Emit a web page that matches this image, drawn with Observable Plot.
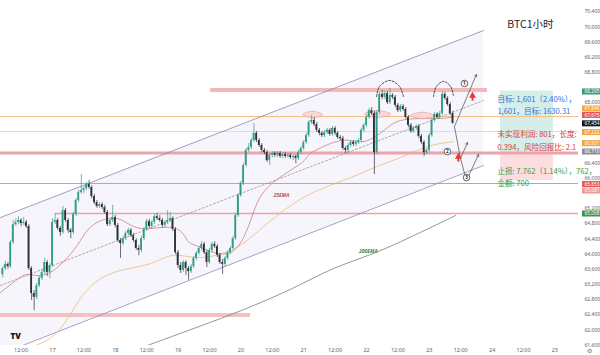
<!DOCTYPE html>
<html><head><meta charset="utf-8">
<script src="https://cdn.jsdelivr.net/npm/d3@7"></script>
<script src="https://cdn.jsdelivr.net/npm/@observablehq/plot@0.6"></script>
<style>
html,body{margin:0;padding:0;background:#fff;}
#chart{width:600px;height:355px;overflow:hidden;}
</style></head><body><div id="chart"></div>
<script>
// ---------- data ----------
const title = "BTC1小时";
const candleStartHour = -19;            // hours relative to day "17" 00:00
const candles = [                       // [open, high, low, close]
[63460,63670,63380,63620],[63620,63810,63570,63730],[63730,63780,63600,63670],[63670,64360,63620,64310],
[64310,64890,64260,64780],[64780,64940,64730,64840],[64840,64990,64780,64890],[64890,64940,64730,64810],
[64810,64970,64760,64840],[64840,64890,64680,64730],[64730,64780,63570,63620],[63620,63670,62780,62960],
[62960,63040,62510,62860],[62860,63230,62800,63170],[63170,63410,63120,63360],[63360,63600,63300,63520],
[63520,63890,63460,63780],[63780,63830,63410,63520],[63520,63750,63360,63700],
[63700,64940,63650,64840],[64840,65070,64780,64890],[64890,64940,64630,64680],[64680,64730,64470,64570],
[64570,65260,64520,65150],[65150,65210,64840,64890],[64890,64940,64550,64630],[64630,64680,64410,64570],
[64570,65100,64520,65050],[65050,65470,64990,65420],[65420,65680,65360,65630],[65630,66100,65580,65680],
[65680,65790,65600,65730],[65730,65890,65680,65840],[65840,65950,65710,65760],[65760,65810,65470,65520],
[65520,65580,65310,65360],[65360,65420,65210,65260],[65260,65360,65210,65310],[65310,65360,65180,65230],
[65230,65290,65050,65100],[65100,65150,64730,64780],[64780,64940,64730,64890],[64890,65290,64840,64970],
[64970,65020,64700,64760],[64760,64810,64310,64360],[64360,64410,63890,64280],[64280,64470,64230,64410],
[64410,64600,64360,64550],[64550,64680,64490,64630],[64630,64680,64440,64490],[64490,64550,64310,64360],
[64360,64410,64100,64150],[64150,64230,63960,64100],[64100,64470,64040,64410],[64410,64700,64360,64650],
[64650,64920,64600,64860],[64860,64920,64680,64730],[64730,64890,64680,64840],[64840,65050,64780,64990],
[64990,65070,64890,64940],[64940,65020,64840,64890],[64890,64940,64700,64760],[64760,64890,64700,64840],
[64840,65150,64780,64890],[64890,65100,64840,64940],[64940,64990,64600,64650],[64650,64700,63990,64040],
[64040,64100,63620,63700],[63700,63780,63490,63570],[63570,63830,63520,63780],[63780,63830,63440,63620],
[63620,63670,63310,63540],[63540,63730,63490,63670],[63670,63940,63620,63890],[63890,64070,63830,64020],
[64020,64200,63970,64150],
[64150,64330,64100,64260],[64260,64310,63990,64040],[64040,64100,63650,63780],[63780,64150,63730,64100],
[64100,64310,64040,64260],[64260,64330,64150,64200],[64200,64260,63910,63970],[63970,64020,63730,63780],
[63780,63860,63460,63730],[63730,63940,63670,63890],[63890,64100,63830,64040],[64040,64200,63990,64150],
[64150,64470,64100,64410],[64410,65070,64360,65020],[65020,65600,64970,65550],[65550,65920,65500,65870],
[65870,66390,65810,66340],[66340,66790,66290,66740],[66740,66920,66680,66820],[66820,67050,66760,67000],
[67000,67450,66950,67190],[67190,67240,66950,67000],[67000,67050,66820,66870],[66870,66920,66680,66740],
[66740,66790,66630,66680],[66680,66740,66420,66470],[66470,66660,66340,66610],[66610,66710,66550,66660],
[66660,66710,66550,66610],[66610,66710,66550,66660],[66660,66710,66530,66580],[66580,66680,66530,66630],
[66630,66680,66530,66580],[66580,66660,66530,66610],[66610,66660,66500,66550],[66550,66630,66470,66580],
[66580,66630,66390,66530],[66530,66740,66470,66680],[66680,66840,66630,66790],[66790,67000,66740,66950],
[66950,67190,66900,67130],[67130,67530,67080,67480],[67480,67660,67420,67530],[67530,67610,67370,67420],
[67420,67480,67210,67270],[67270,67320,67130,67190],[67190,67240,67080,67130],[67130,67270,67080,67210],
[67210,67320,67160,67270],[67270,67320,67110,67160],[67160,67370,67110,67320],[67320,67370,67130,67190],
[67190,67240,67030,67080],[67080,67130,67000,67050],[67050,67110,66740,66790],[66790,66840,66660,66740],
[66740,66920,66680,66870],[66870,67000,66820,66950],[66950,67000,66840,66900],[66900,67000,66840,66950],
[66950,67050,66900,67000],[67000,67320,66950,67270],[67270,67450,67210,67400],[67400,67660,67340,67610],
[67610,67850,67560,67790],[67790,67870,67660,67710],[67710,67770,66100,66680],[66680,67790,66630,67740],
[67740,68270,67690,68220],[68220,68320,68080,68140],[68140,68300,68080,68240],[68240,68300,67950,68000],
[68000,68370,67950,68190],[68190,68240,68080,68140],[68140,68190,67870,67930],[67930,67980,67740,67790],
[67790,67950,67740,67900],[67900,67950,67770,67820],[67820,67870,67560,67610],[67610,67660,67340,67400],
[67400,67450,67190,67240],[67240,67370,67190,67320],[67320,67420,67270,67370],[67370,67420,67050,67110],
[67110,67160,66900,66950],[66950,67000,66580,66680],[66680,66790,66630,66740],[66740,67190,66680,67130],
[67130,67580,67080,67530],[67530,67740,67480,67690],[67690,67740,67560,67610],[67610,67770,67560,67710],
[67710,68290,67660,68220],[68220,68270,68060,68110],[68110,68160,67900,67950],[67950,68000,67660,67710],
[67710,67770,67430,67454]
];
const ema25 = [[-19.9,62990],[-14.1,63300],[-10.3,63460],[-6.5,63440],[-0.8,63520],[5.7,63910],[10.7,64360],
[15.7,64780],[24.8,64940],[33.6,64680],[46.2,64700],[51.6,64360],[56.6,64180],[68.0,64040],[75.7,64890],
[82.2,65760],[94.8,66390],[98.6,66660],[107.4,66950],[113.9,67000],[120.4,67000],[128.0,67340],[133.0,67530],
[140.6,67580],[148.3,67580],[153.2,67630]];
const emaMid = [[-6.5,61590],[3.1,62040],[13.4,63070],[26.0,63570],[37.4,63750],[46.2,63970],[56.6,63910],
[68.0,64100],[75.7,64440],[88.3,65150],[101.3,65680],[113.9,66020],[124.2,66320],[133.0,66550],[143.3,66840],[153.2,66970]];
const ema200 = [[36.3,61590],[48.9,61910],[64.2,62300],[79.5,62720],[94.8,63200],[107.4,63620],[121.5,63990],
[133.0,64330],[144.4,64700],[154.0,65020]];
const channelHours = [-19.87, 164.7];
const channelUpper = [64968, 69905];
const channelMid = [63173, 68057];
const channelLower = [61362, 66341];
const levelPrices = [68334, 67634, 67238, 66671, 65866, 65074, 62394];
const levelStart  = [60.4, -19.87, -19.87, -19.87, -19.87, 1.1, -19.87];
const levelEnd    = [166.2, 201, 201, 201, 201, 201, 75.7];
const ellipses = [[99.35,67687,3.8,87],[124.2,67700,5.0,92],[141.4,67661,4.6,87]]; // centre hour, price, half-width h, half-height $
const arcs = [
  [[123.8,68160],[125.0,68430],[128.8,68585],[132.6,68430],[134.1,68160]],
  [[145.6,68160],[146.7,68430],[149.4,68560],[152.1,68430],[153.2,68190]]
];
const scenarioLegs = [[153.6,67370,155.9,66526],[155.9,66526,158.2,65945]];
const scenarioArrows = [[153.6,67370,162.0,68744],[155.9,66526,158.6,66948],[158.2,65945,162.8,66631]];
const markers = [[157.4,68506,"1"],[150.9,66710,"2"],[158.2,66024,"3"]];
const upArrows = [[160.5,68136],[155.1,66526]];
const position = {t1: 171.2, t2: 191.4, target: 68309, entry: 66708, stop: 65946};
const targetText = ["目标: 1,601（2.40%），", "1,601，目标: 1630.31"];
const pnlText = ["未实现利润: 801，长度:", "0.394，风险回报比: 2.1"];
const stopText = ["止损: 7.762（1.14%），762，", "金额: 700"];
const emaLabels = [{t: 87.5, p: 65549, text: "25EMA"}, {t: 120.7, p: 64070, text: "200EMA"}];
const yTicks = [61600,62000,62400,62800,63200,63600,64000,64400,64800,65200,65600,66000,66400,66800,67200,67600,68000,68400,68800,69200,69600,70000,70400];
const xTickHours = [-12,0,12,24,36,48,60,72,84,96,108,120,132,144,156,168,180,192];
const xTickLabels = ["12:00","17","12:00","18","12:00","19","12:00","20","12:00","21","12:00","22","12:00","23","12:00","24","12:00","25"];
const tagPrices = [68295, 67846, 67675, 67454, 67222, 66931, 66710, 65853, 65681, 65074];
const tagLabels = ["68,295","67,846","67,675","67,454","67,222","66,931","66,710","65,853","65,681","65,068"];

// ---------- styles ----------
const upColor = "#2f9c83", downColor = "#2b2f3a";
const levelColors = ["#f2b8b8", "#f4bf85", "#f7d6b0", "#eba4ab", "#e99393", "#e9a4a7", "#f2c2c2"];
const levelWidths = [4, 1, 1, 3, 1, 1.6, 4];
const tagColors = ["#3b9a78", "#f2a33a", "#e4585c", "#131722", "#f2a33a", "#f2a33a", "#8a8d96", "#e4585c", "#f09494", "#3e9150"];
const cjk = "'Noto Sans CJK SC','Noto Sans',sans-serif";
const lineGap = 12.5;

// ---------- derived tables ----------
const rows = candles.map((d, i) => ({t: candleStartHour + i, o: d[0], h: d[1], l: d[2], c: d[3]}));
const up = rows.filter(d => d.c >= d.o), down = rows.filter(d => d.c < d.o);
const channelRows = channelHours.map((t, i) => ({t, hi: channelUpper[i], mid: channelMid[i], lo: channelLower[i]}));
const levels = levelPrices.map((p, i) => ({p, t1: levelStart[i], t2: levelEnd[i], color: levelColors[i], w: levelWidths[i]}));
const ellipseShapes = ellipses.map(([t, p, a, b]) => [[t - a, p], [t, p + b], [t + a, p], [t, p - b]]);
const xDomain = [-19.87, 201], yDomain = [61589, 70697];
const plotRight = 578;
const hourAtPx = px => xDomain[0] + px / plotRight * (xDomain[1] - xDomain[0]);
const tags = tagPrices.map((p, i) => ({p, label: tagLabels[i], color: tagColors[i]}));
// tick labels hidden under a price tag are not shown (as on the reference axis)
const visibleTicks = yTicks.filter(v => tagPrices.every(p => Math.abs(p - v) > 115));
const xLabel = new Map(xTickHours.map((h, i) => [h, xTickLabels[i]]));
const pos = position;

function textLines(lines, price, firstDy, color) {
  return lines.map((s, i) => Plot.text([s], {x: pos.t1 - 1.2, y: price, dy: firstDy + i * lineGap, text: d => d,
    textAnchor: "start", fontSize: 7.6, fill: color, fontFamily: cjk}));
}

const marks = [
  Plot.areaY(channelRows, {x: "t", y1: "lo", y2: "hi", fill: "#8c7ed0", fillOpacity: 0.075, clip: true}),
  Plot.rect([pos], {x1: "t1", x2: "t2", y1: "entry", y2: "target", fill: "#089981", fillOpacity: 0.17}),
  Plot.rect([pos], {x1: "t1", x2: "t2", y1: "stop", y2: "entry", fill: "#f23645", fillOpacity: 0.17}),
  ...levels.map(l => Plot.ruleY([l.p], {x1: l.t1, x2: l.t2, stroke: l.color, strokeWidth: l.w})),
  Plot.line(channelRows, {x: "t", y: "hi", stroke: "#8f86b8", strokeWidth: 0.8, clip: true}),
  Plot.line(channelRows, {x: "t", y: "lo", stroke: "#8f86b8", strokeWidth: 0.8, clip: true}),
  Plot.line(channelRows, {x: "t", y: "mid", stroke: "#8a8a8a", strokeWidth: 0.7, strokeDasharray: "2,2", clip: true}),
  Plot.line(ema200, {x: d => d[0], y: d => d[1], stroke: "#6c8576", strokeWidth: 0.8, curve: "natural", clip: true}),
  Plot.line(emaMid, {x: d => d[0], y: d => d[1], stroke: "#e9bd7c", strokeWidth: 0.8, curve: "natural", clip: true}),
  Plot.line(ema25, {x: d => d[0], y: d => d[1], stroke: "#cc8088", strokeWidth: 0.8, curve: "natural", clip: true}),
  ...ellipseShapes.map(s => Plot.line(s, {x: d => d[0], y: d => d[1], curve: "catmull-rom-closed", fill: "#f7d6d1", fillOpacity: 0.85, stroke: "#e29a90", strokeWidth: 0.6})),
  Plot.ruleX(up, {x: "t", y1: "l", y2: "h", stroke: upColor, strokeWidth: 0.7}),
  Plot.ruleX(down, {x: "t", y1: "l", y2: "h", stroke: downColor, strokeWidth: 0.7}),
  Plot.rect(up, {x1: d => d.t - 0.34, x2: d => d.t + 0.34, y1: "o", y2: "c", fill: upColor}),
  Plot.rect(down, {x1: d => d.t - 0.34, x2: d => d.t + 0.34, y1: "o", y2: "c", fill: downColor}),
  ...arcs.map(a => Plot.line(a, {x: d => d[0], y: d => d[1], curve: "catmull-rom", stroke: "#1a1a1a", strokeWidth: 0.8, strokeDasharray: "2,1.6"})),
  Plot.link(scenarioLegs, {x1: d => d[0], y1: d => d[1], x2: d => d[2], y2: d => d[3], stroke: "#4a4a4a", strokeWidth: 0.7}),
  Plot.arrow(scenarioArrows, {x1: d => d[0], y1: d => d[1], x2: d => d[2], y2: d => d[3], stroke: "#4a4a4a", strokeWidth: 0.7, headLength: 5}),
  Plot.ruleX(upArrows, {x: d => d[0], y1: d => d[1] - 95, y2: d => d[1] + 20, stroke: "#e53935", strokeWidth: 2}),
  Plot.dot(upArrows, {x: d => d[0], y: d => d[1] + 45, symbol: "triangle", r: 2.6, fill: "#e53935"}),
  Plot.dot(markers, {x: d => d[0], y: d => d[1], r: 3.3, fill: "white", stroke: "#222", strokeWidth: 0.7}),
  Plot.text(markers, {x: d => d[0], y: d => d[1], text: d => d[2], fontSize: 4.6, fill: "#222", fontWeight: 700}),
  Plot.text(emaLabels, {x: "t", y: "p", text: "text", fontSize: 5, fontStyle: "italic", fontWeight: 700,
    fill: d => d.text === "25EMA" ? "#c0564e" : "#3c8a55"}),
  // axes
  Plot.axisY(visibleTicks, {anchor: "right", tickSize: 0, tickPadding: 6, tickFormat: d3.format(","), label: null, fontSize: 5}),
  Plot.axisX(xTickHours, {anchor: "bottom", tickSize: 0, tickPadding: 3, tickFormat: d => xLabel.get(d), label: null}),
  Plot.ruleY(tags, {y: "p", x1: hourAtPx(582), x2: hourAtPx(601), stroke: "color", strokeWidth: 6}),
  Plot.text(tags, {y: "p", x: hourAtPx(591.5), text: "label", fill: "white", fontSize: 4.8}),
  // position tool texts (drawn over the axis like the reference)
  ...textLines(targetText, pos.target, 8.5, "#2f6fd6"),
  ...textLines(pnlText, pos.entry, -17, "#e0393b"),
  ...textLines(stopText, pos.stop, -9, "#3d9a3d"),
  // title & logos
  Plot.text([title], {frameAnchor: "top-right", dx: -25, dy: 20, text: d => d, textAnchor: "end", fontSize: 10.5, fill: "#1e222d", fontFamily: cjk}),
  Plot.text(["TV"], {frameAnchor: "bottom-left", dx: 10, dy: -7, text: d => d, fontSize: 8, fontWeight: 900, fill: "#131722"}),
  Plot.text(["⚙"], {frameAnchor: "bottom-right", dx: 13, dy: 7.3, text: d => d, fontSize: 6, fill: "#777"})
];

const chart = Plot.plot({
  width: 600, height: 355,
  marginLeft: 0, marginRight: 600 - plotRight, marginTop: 0, marginBottom: 10,
  x: {domain: xDomain, axis: null},
  y: {domain: yDomain, axis: null},
  color: {type: "identity"},
  style: {fontFamily: "'Noto Sans',sans-serif", fontSize: "5.5px", color: "#5d606b", background: "#fff", overflow: "visible"},
  marks
});
document.getElementById("chart").append(chart);
</script></body></html>
